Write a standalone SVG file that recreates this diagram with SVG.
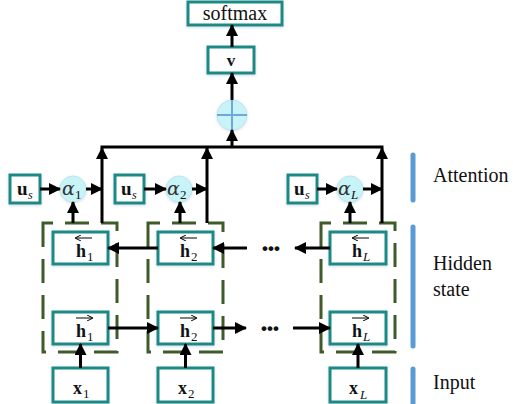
<svg xmlns="http://www.w3.org/2000/svg" width="513" height="404" viewBox="0 0 513 404">
<defs>
<marker id="ah" markerUnits="userSpaceOnUse" markerWidth="12" markerHeight="12" refX="11" refY="6" orient="auto">
<path d="M0,0 L12,6 L0,12 z" fill="#000"/>
</marker>
<marker id="sa" markerUnits="userSpaceOnUse" markerWidth="6" markerHeight="6" refX="5" refY="3" orient="auto">
<path d="M0,0 L6,3 L0,6" fill="none" stroke="#000" stroke-width="1"/>
</marker>
<filter id="sh" x="-20%" y="-20%" width="140%" height="140%">
<feDropShadow dx="0" dy="1" stdDeviation="1.5" flood-color="#7a9ac0" flood-opacity="0.35"/>
</filter>
</defs>
<style>
.box{fill:#fff;stroke:#1b8a84;stroke-width:3;filter:url(#sh)}
.cir{fill:#c8f4f8;stroke:#bfe6ee;stroke-width:1;filter:url(#sh)}
.con{stroke:#000;stroke-width:3;fill:none}
.arr{stroke:#000;stroke-width:3;fill:none;marker-end:url(#ah)}
.dash{fill:none;stroke:#3f5b2a;stroke-width:3;stroke-dasharray:24 12}
.bar{stroke:#5b9bd5;stroke-width:5;stroke-linecap:round}
.t{font-family:"Liberation Serif",serif;fill:#111}
.b{font-weight:bold}
.al{font-family:"DejaVu Serif","Liberation Serif",serif;font-style:italic;font-size:19px;fill:#333}
.acc{stroke:#000;stroke-width:1;fill:none;marker-end:url(#sa)}
.dots{font-family:"Liberation Sans",sans-serif;font-weight:bold;font-size:17px;fill:#111}
</style>

<g id="softmax"><rect class="box" x="188" y="2" width="94" height="23"/><text class="t" x="235" y="20" font-size="20" text-anchor="middle">softmax</text></g>
<g id="v"><rect class="box" x="208" y="47" width="46" height="26"/><text class="t b" x="231" y="66" font-size="17" text-anchor="middle">v</text></g>
<g id="sum"><circle class="cir" cx="232" cy="115" r="15"/><path d="M217,115 H247 M232,100 V130" stroke="#6fa8dc" stroke-width="2"/></g>

<g id="us1"><rect class="box" x="10" y="175" width="30" height="28"/><text class="t b" x="17" y="195" font-size="19">u</text><text class="t" x="28" y="199" font-size="12" font-style="italic">s</text></g>
<g id="us2"><rect class="box" x="115" y="175" width="29" height="28"/><text class="t b" x="121" y="195" font-size="19">u</text><text class="t" x="132" y="199" font-size="12" font-style="italic">s</text></g>
<g id="usL"><rect class="box" x="288" y="175" width="29" height="28"/><text class="t b" x="294" y="195" font-size="19">u</text><text class="t" x="305" y="199" font-size="12" font-style="italic">s</text></g>

<g id="a1"><circle class="cir" cx="73" cy="189" r="13"/><text class="al" x="62" y="195">α</text><text class="t" x="75" y="199" font-size="13">1</text></g>
<g id="a2"><circle class="cir" cx="179" cy="189" r="13"/><text class="al" x="167" y="195">α</text><text class="t" x="180" y="199" font-size="13">2</text></g>
<g id="aL"><circle class="cir" cx="350" cy="189" r="13"/><text class="al" x="338" y="195">α</text><text class="t" x="351" y="199" font-size="13" font-style="italic">L</text></g>

<g id="grp1"><path class="dash" d="M43,223 V352 H117 V223 Z"/></g>
<g id="grp2"><path class="dash" d="M148,223 V352 H223 V223 Z"/></g>
<g id="grpL"><path class="dash" d="M321,223 V352 H395 V223 Z"/></g>

<g id="hb1"><rect class="box" x="53" y="232" width="55" height="32"/><path class="acc" d="M92,238 H76"/><text class="t b" x="76" y="257" font-size="18">h</text><text class="t" x="87" y="261" font-size="13">1</text></g>
<g id="hb2"><rect class="box" x="158" y="232" width="55" height="32"/><path class="acc" d="M197,238 H181"/><text class="t b" x="180" y="257" font-size="18">h</text><text class="t" x="191" y="261" font-size="13">2</text></g>
<g id="hbL"><rect class="box" x="330" y="232" width="56" height="32"/><path class="acc" d="M369,238 H353"/><text class="t b" x="352" y="257" font-size="18">h</text><text class="t" x="363" y="261" font-size="13" font-style="italic">L</text></g>

<g id="hf1"><rect class="box" x="53" y="312" width="55" height="32"/><path class="acc" d="M76,318 H92"/><text class="t b" x="76" y="337" font-size="18">h</text><text class="t" x="87" y="341" font-size="13">1</text></g>
<g id="hf2"><rect class="box" x="158" y="312" width="55" height="32"/><path class="acc" d="M180,318 H196"/><text class="t b" x="180" y="337" font-size="18">h</text><text class="t" x="191" y="341" font-size="13">2</text></g>
<g id="hfL"><rect class="box" x="330" y="312" width="56" height="32"/><path class="acc" d="M352,318 H368"/><text class="t b" x="352" y="337" font-size="18">h</text><text class="t" x="363" y="341" font-size="13" font-style="italic">L</text></g>

<g id="x1"><rect class="box" x="53" y="368" width="55" height="34"/><text class="t b" x="73" y="394" font-size="18">x</text><text class="t" x="83" y="398" font-size="13">1</text></g>
<g id="x2"><rect class="box" x="158" y="368" width="55" height="34"/><text class="t b" x="178" y="394" font-size="18">x</text><text class="t" x="188" y="398" font-size="13">2</text></g>
<g id="xL"><rect class="box" x="330" y="368" width="56" height="34"/><text class="t b" x="349" y="394" font-size="18">x</text><text class="t" x="360" y="399" font-size="13" font-style="italic">L</text></g>

<g id="connectors">
<path class="arr" d="M232,47 V25"/>
<path class="arr" d="M232,100 V73"/>
<path class="arr" d="M232,147 V130"/>
<path class="con" d="M100.5,147 H383.5"/>
<path class="arr" d="M102,223 V148"/>
<path class="arr" d="M207,223 V148"/>
<path class="arr" d="M382,223 V148"/>
<path class="arr" d="M40,189 H60"/>
<path class="arr" d="M86,189 H102"/>
<path class="arr" d="M144,189 H166"/>
<path class="arr" d="M192,189 H207"/>
<path class="arr" d="M317,189 H337"/>
<path class="arr" d="M363,189 H382"/>
<path class="arr" d="M73,223 V202"/>
<path class="arr" d="M180,223 V202"/>
<path class="arr" d="M350,223 V202"/>
<path class="arr" d="M158,248 H108"/>
<path class="arr" d="M247,248 H213"/>
<path class="arr" d="M330,248 H295"/>
<path class="arr" d="M108,328 H158"/>
<path class="arr" d="M213,328 H246"/>
<path class="arr" d="M293,328 H330"/>
<path class="arr" d="M80.5,368 V344"/>
<path class="arr" d="M185.5,368 V344"/>
<path class="arr" d="M358,368 V344"/>
</g>

<g id="dots">
<text class="dots" x="262" y="254">•••</text>
<text class="dots" x="261" y="334">•••</text>
</g>

<g id="labels">
<path class="bar" d="M413,155 V200"/>
<path class="bar" d="M413,227 V346"/>
<path class="bar" d="M413,369 V410"/>
<text class="t" x="433" y="182" font-size="20">Attention</text>
<text class="t" x="433" y="270" font-size="20">Hidden</text>
<text class="t" x="433" y="296" font-size="20">state</text>
<text class="t" x="433" y="389" font-size="20">Input</text>
</g>
</svg>
